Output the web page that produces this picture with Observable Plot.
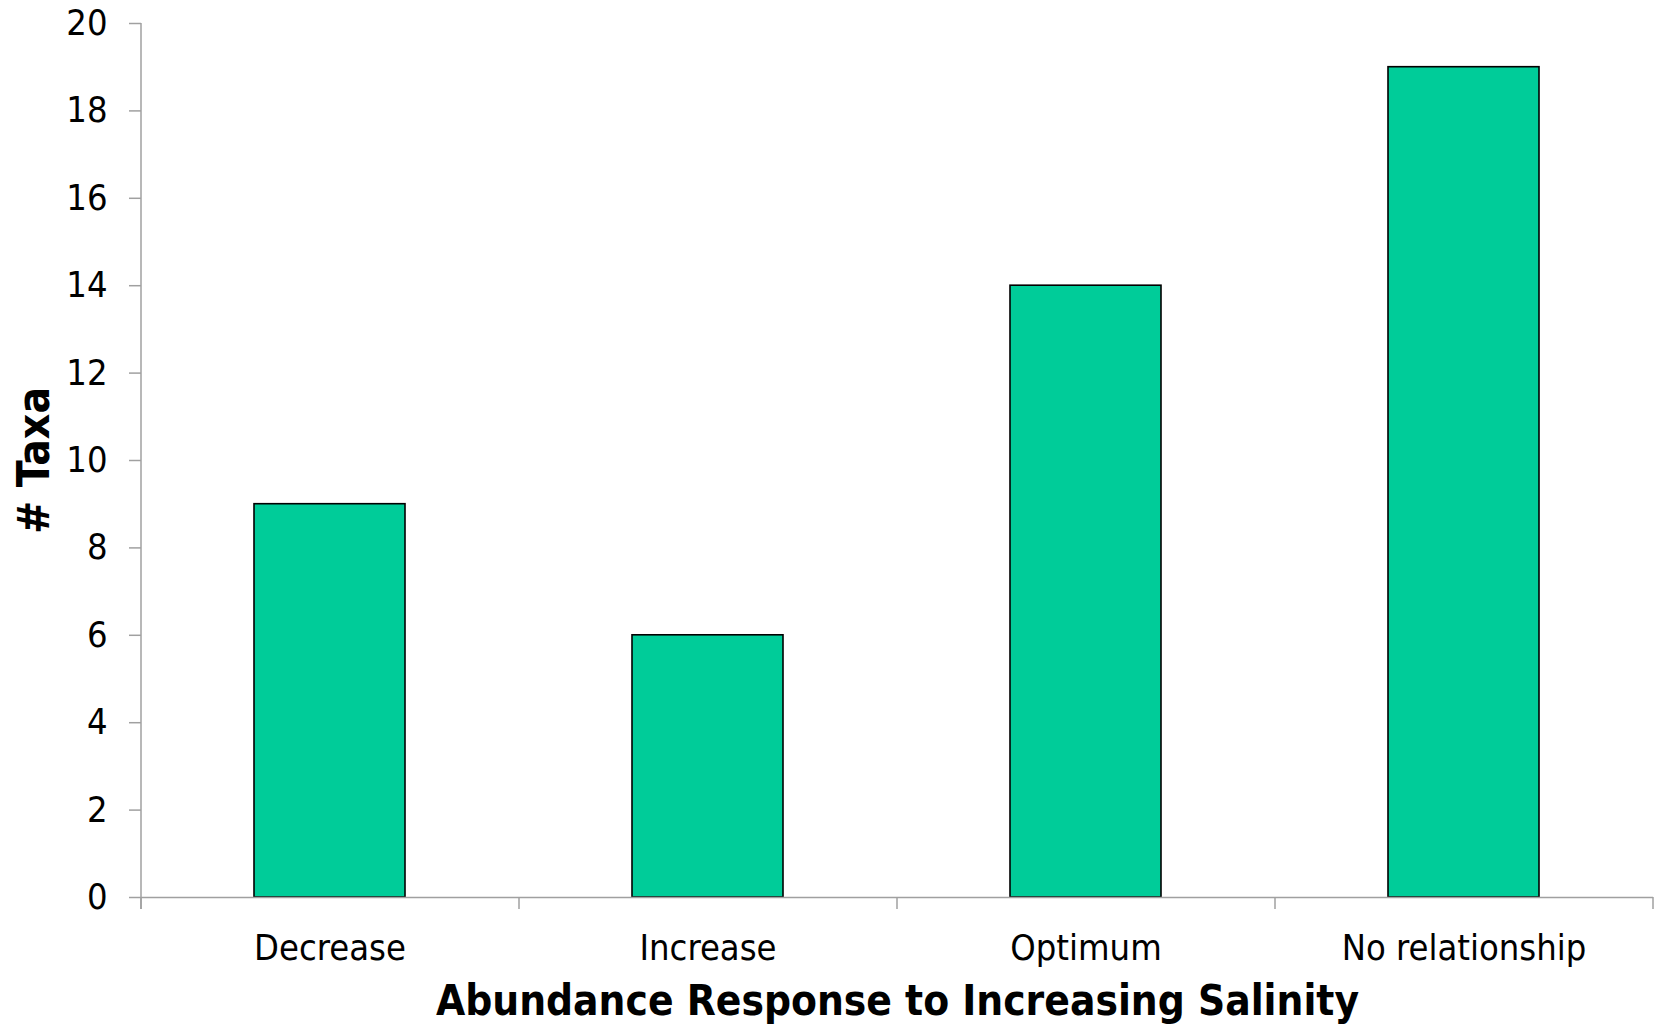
<!DOCTYPE html>
<html>
<head>
<meta charset="utf-8">
<script src="https://cdn.jsdelivr.net/npm/d3@7"></script>
<script src="https://cdn.jsdelivr.net/npm/@observablehq/plot@0.6"></script>
<style>
  html, body { margin: 0; padding: 0; background: #fff; }
  #chart svg { display: block; }
</style>
</head>
<body>
<div id="chart"></div>
<script>
// Number of taxa by abundance response to increasing salinity
const categories = ["Decrease", "Increase", "Optimum", "No relationship"];
const taxaCounts = [9, 6, 14, 19];
const yTicks = [0, 2, 4, 6, 8, 10, 12, 14, 16, 18, 20];
const xTitle = "Abundance Response to Increasing Salinity";
const yTitle = "# Taxa";

const data = categories.map((c, i) => ({category: c, count: taxaCounts[i]}));

const W = 1661, H = 1025;
const mL = 141, mR = 8, mT = 23, mB = 128;
const step = (W - mL - mR) / categories.length;   // width of one category band
const axisColor = "#a0a0a0";
const font = "'DejaVu Sans Condensed', 'DejaVu Sans', sans-serif";

// category boundaries: left edge of each band plus the right edge of the last
const boundaries = categories.map(c => ({category: c, dx: -step / 2}))
  .concat([{category: categories[categories.length - 1], dx: step / 2}]);

const chart = Plot.plot({
  width: W,
  height: H,
  marginLeft: mL,
  marginRight: mR,
  marginTop: mT,
  marginBottom: mB,
  style: {fontFamily: font, color: "#000", background: "#fff"},
  x: {domain: categories, paddingInner: 0.6, paddingOuter: 0.3, align: 0.5, label: null},
  y: {domain: [0, 20], label: null},
  marks: [
    // bars
    Plot.barY(data, {x: "category", y: "count", fill: "#00cc99", stroke: "#000", strokeWidth: 1.6}),
    // x axis line
    Plot.ruleY([0], {stroke: axisColor, strokeWidth: 1.5}),
    // y axis line, reaching down to the tick length below the baseline
    Plot.ruleX([categories[0]], {dx: -step / 2, y1: 20, y2: 0, insetBottom: -12, stroke: axisColor, strokeWidth: 1.5}),
    // tick marks at category boundaries
    ...boundaries.map(b => Plot.ruleX([b.category], {dx: b.dx, y1: 0, y2: 0, insetBottom: -12, stroke: axisColor, strokeWidth: 1.5})),
    // y axis ticks and labels
    Plot.axisY({ticks: yTicks, tickSize: 12, tickPadding: 22, fontSize: 36, stroke: axisColor, strokeWidth: 1.5, strokeOpacity: 1, label: null, tickFormat: d3.format("d")}),
    // x axis category labels
    Plot.axisX({tickSize: 0, tickPadding: 37, fontSize: 36, label: null}),
    // axis titles
    Plot.text([xTitle], {frameAnchor: "bottom", dy: 104, fontSize: 42, fontWeight: "bold", fill: "#000", lineAnchor: "middle"}),
    Plot.text([yTitle], {frameAnchor: "left", dx: -107, rotate: -90, textAnchor: "middle", fontSize: 44, fontWeight: "bold", fill: "#000"})
  ]
});

document.getElementById("chart").appendChild(chart);
</script>
</body>
</html>
